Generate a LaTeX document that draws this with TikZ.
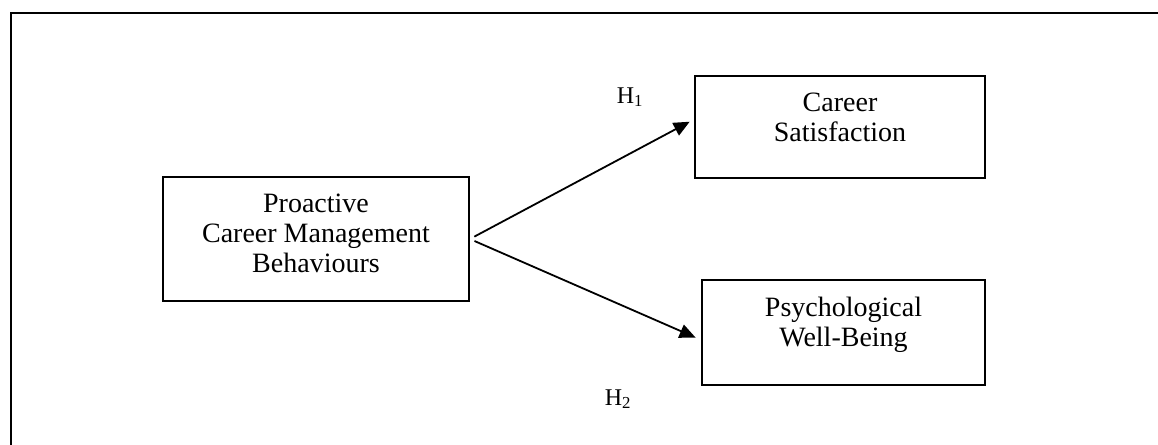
\documentclass[tikz,border=0pt]{standalone}
\usepackage{fontspec}
\setmainfont{Liberation Serif}
\usetikzlibrary{arrows.meta,positioning}

\begin{document}
\begin{tikzpicture}[x=1pt,y=-1pt,
  construct/.style={rectangle,draw,line width=1.8pt,inner sep=0pt},
  boxtext/.style={align=center,inner sep=0pt,font=\fontsize{28}{30}\selectfont},
  hyp/.style={inner sep=0pt,anchor=base,font=\fontsize{24}{28}\selectfont},
  link/.style={line width=1.8pt,-{Triangle[length=16pt,width=14pt]}}]
\useasboundingbox (0,0) rectangle (1158,444);
\clip (0,0) rectangle (1158,444);
\draw[line width=2.2pt] (11,13) rectangle (1180,470);

\node(pcmb)[construct,minimum width=306pt,minimum height=124pt] at (316,239) {};
\node(cs)[construct,minimum width=290pt,minimum height=102pt] at (840,127) {};
\node(pwb)[construct,minimum width=283pt,minimum height=105pt] at (843.5,332.5) {};

\node(pcmbtext)[boxtext,below=17.5pt of pcmb.north]{Proactive\\Career Management\\Behaviours};
\node(cstext)[boxtext,below=17.5pt of cs.north]{Career\\Satisfaction};
\node(pwbtext)[boxtext,below=17.5pt of pwb.north]{Psychological\\Well-Being};

\draw [link,shorten <=5pt,shorten >=5pt] (pcmb.east) -- (cs.177);
\draw [link,shorten <=5pt,shorten >=6pt] (pcmb.east) -- (pwb.183);

\node(h1)[hyp] at (630,103) {H\textsubscript{1}};
\node(h2)[hyp] at (618,405) {H\textsubscript{2}};
\end{tikzpicture}
\end{document}
